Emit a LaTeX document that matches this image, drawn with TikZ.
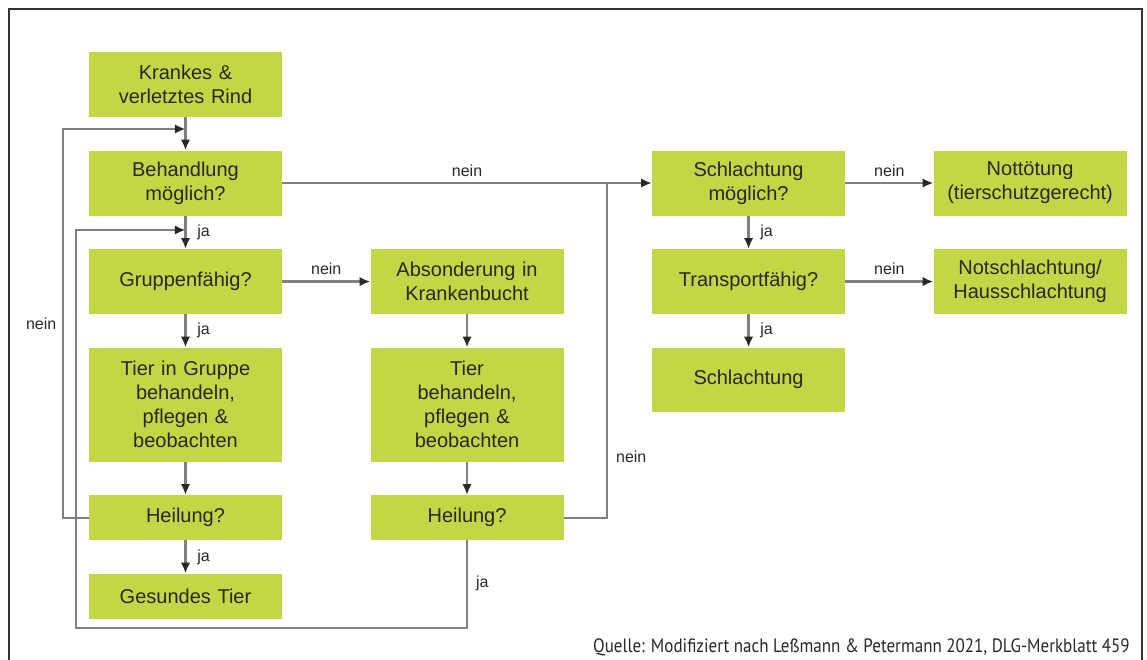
\documentclass[tikz,border=0pt]{standalone}
\usepackage{fontspec}
\setmainfont{Liberation Sans}
\newfontfamily\quellefont[FakeStretch=0.88]{PT Sans}
\usetikzlibrary{positioning,arrows.meta}
\definecolor{boxgreen}{RGB}{195,214,70}
\definecolor{linegrey}{RGB}{128,128,128}
\definecolor{txtgrey}{RGB}{40,40,36}
\definecolor{framegrey}{RGB}{50,50,50}

\begin{document}
\begin{tikzpicture}[x=0.75pt,y=-0.75pt,>={Latex[length=8pt,width=7pt,color=txtgrey]},
	box/.style={rectangle,fill=boxgreen,text=txtgrey,font=\fontsize{15}{18}\selectfont,
		minimum width=144.75pt,minimum height=48.75pt,text width=144.75pt,inner sep=0pt,align=center},
	lbl/.style={font=\fontsize{12}{14}\selectfont,text=txtgrey,inner sep=2pt},
	line/.style={linegrey,line width=1.7pt},
	node distance=24.75pt and 66pt]
		\useasboundingbox (0,0) rectangle (1147,660);
		\draw[framegrey,line width=1.5pt] (9,660) -- (9,9) -- (1142,9) -- (1142,660);

		\node[box] (krank) at (185.5,84.5) {Krankes \&\\verletztes Rind};
		\node[box,below=of krank] (behand) {Behandlung\\möglich?};
		\node[box,below=of behand] (grupp) {Gruppenfähig?};
		\node[box,below=of grupp,minimum height=85.5pt] (tierg) {Tier in Gruppe\\behandeln,\\pflegen \&\\beobachten};
		\node[box,below=of tierg,minimum height=33.75pt] (heil1) {Heilung?};
		\node[box,below=of heil1,minimum height=33.75pt] (gesund) {Gesundes Tier};
		\node[box,right=of grupp] (absond) {Absonderung in\\Krankenbucht};
		\node[box,below=of absond,minimum height=85.5pt] (tierb) {Tier\\behandeln,\\pflegen \&\\beobachten};
		\node[box,below=of tierb,minimum height=33.75pt] (heil2) {Heilung?};
		\node[box,right=of absond] (transp) {Transportfähig?};
		\node[box,above=of transp] (schlm) {Schlachtung\\möglich?};
		\node[box,below=of transp,minimum height=48pt] (schl) {Schlachtung};
		\node[box,right=of schlm] (nott) {Nottötung\\(tierschutzgerecht)};
		\node[box,right=of transp] (notschl) {Notschlachtung/\\Hausschlachtung};

		\coordinate (in1) at (185.5,129);
		\coordinate (in2) at (185.5,230);
		\coordinate (join) at (607,182);

		\path[line]
			(krank) edge[->] (behand)
			(behand) edge[->] node[lbl,right,xshift=6pt] {ja} (grupp)
			(behand) edge[->] node[lbl,above,yshift=2pt] {nein} (schlm)
			(grupp)
				edge[->] node[lbl,right,xshift=6pt] {ja} (tierg)
				edge[->] node[lbl,above,yshift=2pt] {nein} (absond)
			(tierg) edge[->] (heil1)
			(heil1) edge[->] node[lbl,right,xshift=6pt] {ja} (gesund)
			(absond) edge[->] (tierb)
			(tierb) edge[->] (heil2)
			(schlm)
				edge[->] node[lbl,right,xshift=6pt] {ja} (transp)
				edge[->] node[lbl,above,yshift=2pt] {nein} (nott)
			(transp)
				edge[->] node[lbl,right,xshift=6pt] {ja} (schl)
				edge[->] node[lbl,above,yshift=2pt] {nein} (notschl)
			;

		% Rueckfuehrungen
		\draw[line,->] (heil1.west) -- ++(-26,0) |- node[lbl,left,pos=0.25,xshift=-2pt] {nein} (in1);
		\draw[line,->] (heil2.south) |- node[lbl,right,pos=0.245,xshift=4pt] {ja} (76,628) |- (in2);
		\draw[line] (heil2.east) -| node[lbl,right,pos=0.59,xshift=4pt] {nein} (join);

		\node[anchor=base east,inner sep=0pt,font=\quellefont\fontsize{14.5}{17}\selectfont,text=txtgrey] (quelle) at (1130,652)
			{Quelle: Modifiziert nach Leßmann \& Petermann 2021, DLG-Merkblatt 459};
	\end{tikzpicture}
\end{document}
